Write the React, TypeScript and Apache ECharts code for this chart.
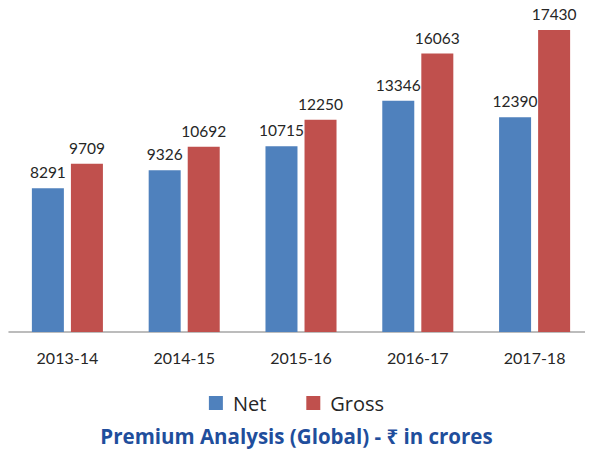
import React, { useEffect, useRef } from "react";
import * as echarts from "echarts";

const categories = ["2013-14", "2014-15", "2015-16", "2016-17", "2017-18"];
const netValues = [8291, 9326, 10715, 13346, 12390];
const grossValues = [9709, 10692, 12250, 16063, 17430];
const seriesNames = ["Net", "Gross"];
const titleText = "Premium Analysis (Global) - \u20B9 in crores";

const FONT = "Lato, 'Noto Sans', 'DejaVu Sans', sans-serif";
const FONT2 = "'Open Sans', 'Noto Sans', 'DejaVu Sans', sans-serif";

export default function App() {
  const ref = useRef<HTMLDivElement>(null);
  useEffect(() => {
    if (!ref.current) return;
    const chart = echarts.init(ref.current, undefined, { renderer: "svg" });
    chart.setOption({
      animation: false,
      backgroundColor: "#ffffff",
      title: {
        text: titleText,
        left: "center",
        top: 420,
        textStyle: { color: "#1f4e9c", fontSize: 20.5, fontWeight: "bold", fontFamily: FONT2 },
      },
      legend: {
        data: seriesNames,
        top: 388,
        left: "center",
        itemWidth: 14,
        itemHeight: 14,
        itemGap: 40,
        icon: "rect",
        textStyle: { fontSize: 20, color: "#262626", fontFamily: FONT2, padding: [0, 0, 0, 5] },
      },
      grid: { left: 9, width: 590, top: 20, bottom: 117, containLabel: false },
      xAxis: {
        type: "category",
        data: categories,
        axisLine: { lineStyle: { color: "#a6a6a6", width: 1.5 } },
        axisTick: { show: false },
        axisLabel: { color: "#262626", fontSize: 16, margin: 17, fontFamily: FONT },
      },
      yAxis: {
        type: "value",
        min: 0,
        max: 18000,
        show: false,
        splitLine: { show: false },
      },
      series: [
        {
          name: seriesNames[0],
          type: "bar",
          data: netValues,
          barWidth: 32,
          barGap: "22%",
          itemStyle: { color: "#4F81BD" },
          label: { show: true, position: "top", color: "#262626", fontSize: 15.5, fontFamily: FONT, distance: 8 },
        },
        {
          name: seriesNames[1],
          type: "bar",
          data: grossValues,
          barWidth: 32,
          barGap: "22%",
          itemStyle: { color: "#C0504D" },
          label: { show: true, position: "top", color: "#262626", fontSize: 15.5, fontFamily: FONT, distance: 8 },
        },
      ],
    });
    return () => chart.dispose();
  }, []);
  return <div ref={ref} style={{ width: 593, height: 449, marginLeft: -8, marginTop: -8 }} />;
}
